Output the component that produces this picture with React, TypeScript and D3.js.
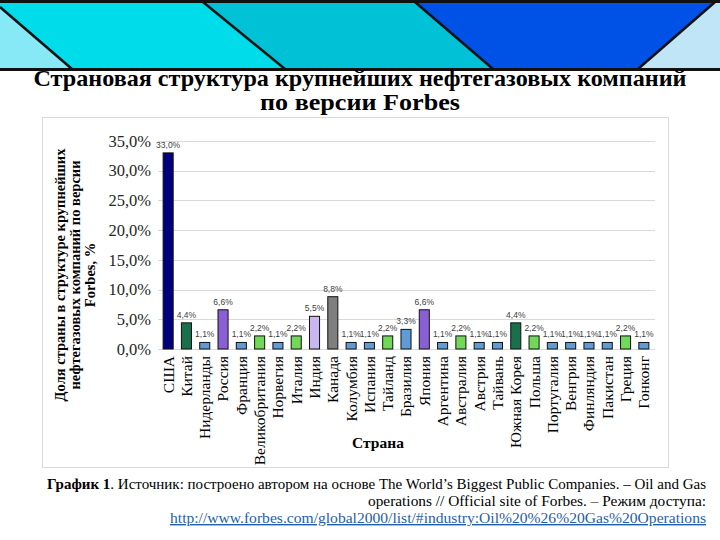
import React, { useEffect, useRef } from "react";
import * as d3 from "d3";

const countries = [
  "США", "Китай", "Нидерланды", "Россия", "Франция", "Великобритания", "Норвегия",
  "Италия", "Индия", "Канада", "Колумбия", "Испания", "Тайланд", "Бразилия",
  "Япония", "Аргентина", "Австралия", "Австрия", "Тайвань", "Южная Корея",
  "Польша", "Португалия", "Венгрия", "Финляндия", "Пакистан", "Греция", "Гонконг",
];
const shares = [
  33.0, 4.4, 1.1, 6.6, 1.1, 2.2, 1.1, 2.2, 5.5, 8.8, 1.1, 1.1, 2.2, 3.3,
  6.6, 1.1, 2.2, 1.1, 1.1, 4.4, 2.2, 1.1, 1.1, 1.1, 1.1, 2.2, 1.1,
];
const yTicks = [0, 5, 10, 15, 20, 25, 30, 35];

const titleLines = ["Страновая структура крупнейших нефтегазовых компаний", "по версии Forbes"];
const yTitleLines = ["Доля страны в структуре крупнейших", "нефтегазовых компаний по версии", "Forbes, %"];

// colours by value, as in the picture
const colorFor = (v: number) => {
  if (v >= 30) return "#00007f";
  if (v === 8.8) return "#7f7f7f";
  if (v === 6.6) return "#8a5fd6";
  if (v === 5.5) return "#c9b8f0";
  if (v === 4.4) return "#19704a";
  if (v === 2.2) return "#72d85a";
  return "#5f9bd6";
};

const fmt = (v: number) => v.toFixed(1).replace(".", ",") + "%";

const App = () => {
  const ref = useRef<SVGSVGElement>(null);

  useEffect(() => {
    const svg = d3.select(ref.current);
    svg.selectAll("*").remove();
    const serif = "'Liberation Serif', 'Times New Roman', serif";

    // banner
    const banner = svg.append("g");
    const polys: [string, number[][]][] = [
      ["#86e9f5", [[0, 2], [0, 69], [72, 69], [0, 7]]],
      ["#00dcea", [[0, 2], [203, 2], [285, 69], [72, 69], [0, 7]]],
      ["#00c1d6", [[203, 2], [415, 2], [493, 69], [285, 69]]],
      ["#0052e6", [[415, 2], [715, 2], [638, 69], [493, 69]]],
      ["#bfe5f6", [[715, 2], [720, 2], [720, 69], [638, 69]]],
    ];
    polys.forEach(([c, pts]) => {
      banner.append("polygon").attr("points", pts.map((p) => p.join(",")).join(" ")).attr("fill", c);
    });
    const diag = [[0, 7, 72, 69], [203, 2, 285, 69], [415, 2, 493, 69], [715, 2, 638, 69]];
    diag.forEach(([x1, y1, x2, y2]) => {
      banner.append("line").attr("x1", x1).attr("y1", y1).attr("x2", x2).attr("y2", y2)
        .attr("stroke", "#111").attr("stroke-width", 2.5);
    });
    banner.append("rect").attr("x", 0).attr("y", 0).attr("width", 720).attr("height", 3).attr("fill", "#111");
    banner.append("rect").attr("x", 0).attr("y", 68).attr("width", 720).attr("height", 3).attr("fill", "#111");

    // title
    svg.append("text").attr("x", 360).attr("y", 86).attr("text-anchor", "middle")
      .attr("font-family", serif).attr("font-weight", "bold").attr("font-size", 23)
      .attr("textLength", 653).attr("lengthAdjust", "spacingAndGlyphs").text(titleLines[0]);
    svg.append("text").attr("x", 360).attr("y", 110).attr("text-anchor", "middle")
      .attr("font-family", serif).attr("font-weight", "bold").attr("font-size", 23)
      .attr("textLength", 200).attr("lengthAdjust", "spacingAndGlyphs").text(titleLines[1]);

    // chart frame
    svg.append("rect").attr("x", 42.5).attr("y", 117.5).attr("width", 626).attr("height", 350)
      .attr("fill", "white").attr("stroke", "#d9d9d9");

    const x = d3.scaleBand().domain(countries).range([159, 653]).paddingInner(0.45).paddingOuter(0.225);
    const y = d3.scaleLinear().domain([0, 35]).range([349, 141]);

    // grid
    svg.append("g").selectAll("line").data(yTicks).join("line")
      .attr("x1", 158).attr("x2", 655)
      .attr("y1", (d) => Math.round(y(d)) + 0.5).attr("y2", (d) => Math.round(y(d)) + 0.5)
      .attr("stroke", "#d9d9d9");

    // y axis labels
    const yAxis = d3.axisLeft(y).tickValues(yTicks).tickFormat((d) => fmt(+d)).tickSize(0).tickPadding(0);
    const gy = svg.append("g").attr("transform", "translate(151,0)").call(yAxis);
    gy.select(".domain").remove();
    gy.selectAll("text").attr("font-family", serif).attr("font-size", 16.5).attr("fill", "#262626");

    // bars
    svg.append("g").selectAll("rect").data(shares).join("rect")
      .attr("x", (d, i) => x(countries[i])!)
      .attr("y", (d) => y(d))
      .attr("width", x.bandwidth())
      .attr("height", (d) => y(0) - y(d))
      .attr("fill", (d) => colorFor(d))
      .attr("stroke", "#111").attr("stroke-width", 1);

    // data labels
    svg.append("g").selectAll("text").data(shares).join("text")
      .attr("x", (d, i) => x(countries[i])! + x.bandwidth() / 2)
      .attr("y", (d) => y(d) - 5)
      .attr("text-anchor", "middle")
      .attr("font-family", "'Liberation Sans', Arial, sans-serif").attr("font-size", 8.5)
      .attr("fill", "#404040")
      .text((d) => fmt(d));

    // x axis labels
    const xAxis = d3.axisBottom(x).tickSize(0).tickPadding(0);
    const gx = svg.append("g").attr("transform", "translate(0,352)").call(xAxis);
    gx.select(".domain").remove();
    gx.selectAll("text")
      .attr("font-family", serif).attr("font-size", 15.5).attr("fill", "#000")
      .attr("text-anchor", "end").attr("dy", "0.35em")
      .attr("transform", "rotate(-90) translate(-4,0)")
      .attr("x", 0).attr("y", 0);

    // axis titles
    svg.append("text").attr("x", 378).attr("y", 448).attr("text-anchor", "middle")
      .attr("font-family", serif).attr("font-weight", "bold").attr("font-size", 15.5).text("Страна");
    const yt = svg.append("text").attr("transform", "translate(65,275) rotate(-90)")
      .attr("text-anchor", "middle").attr("font-family", serif).attr("font-weight", "bold").attr("font-size", 14.5);
    yTitleLines.forEach((l, i) => {
      yt.append("tspan").attr("x", 0).attr("y", i * 15).text(l);
    });

    // caption
    const cap1 = svg.append("text").attr("x", 706).attr("y", 489).attr("text-anchor", "end")
      .attr("font-family", serif).attr("font-size", 14).attr("textLength", 659).attr("lengthAdjust", "spacingAndGlyphs");
    cap1.append("tspan").attr("font-weight", "bold").text("График 1");
    cap1.append("tspan").text(". Источник: построено автором на основе The World’s Biggest Public Companies. – Oil and Gas");
    svg.append("text").attr("x", 706).attr("y", 506).attr("text-anchor", "end")
      .attr("font-family", serif).attr("font-size", 14).attr("textLength", 338).attr("lengthAdjust", "spacingAndGlyphs")
      .text("operations // Official site of Forbes.  – Режим доступа:");
    svg.append("text").attr("x", 706).attr("y", 523).attr("text-anchor", "end")
      .attr("font-family", serif).attr("font-size", 14).attr("fill", "#1f5fa8")
      .attr("text-decoration", "underline").attr("textLength", 536).attr("lengthAdjust", "spacingAndGlyphs")
      .text("http://www.forbes.com/global2000/list/#industry:Oil%20%26%20Gas%20Operations");
  }, []);

  return (
    <svg ref={ref} width={720} height={540} style={{ position: "absolute", left: 0, top: 0, background: "white" }} />
  );
};

export default App;
